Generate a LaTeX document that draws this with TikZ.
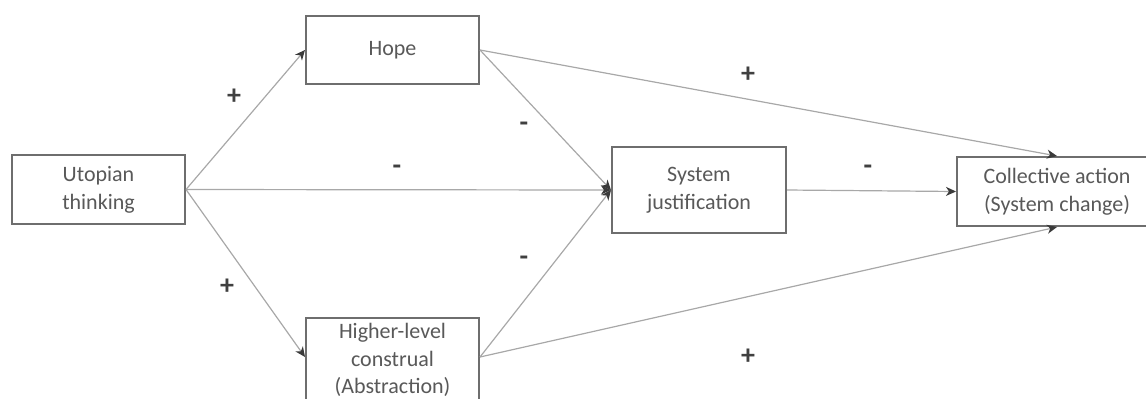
\documentclass[tikz,border=0pt]{standalone}
\usepackage{fontspec}
\setmainfont{Carlito}
\usetikzlibrary{arrows.meta,calc}
\definecolor{txtc}{HTML}{595959}
\definecolor{boxc}{HTML}{6E6E6E}
\definecolor{linec}{HTML}{A8A8A8}
\definecolor{tipc}{HTML}{3A3A3A}
\definecolor{signc}{HTML}{404040}
\begin{document}
\begin{tikzpicture}[x=0.5pt,y=-0.5pt,
  box/.style={draw=boxc, line width=1pt, fill=white, text=txtc, align=center,
    font=\fontsize{11}{13.85}\selectfont, inner sep=0pt},
  conn/.style={draw=linec, line width=0.6pt,
    -{Stealth[length=5pt,width=4.5pt,inset=1.5pt,color=tipc]}},
  sign/.style={text=signc, font=\fontsize{14}{16}\selectfont\bfseries, inner sep=0pt}]
\useasboundingbox (0,0) rectangle (1146,398);
\clip (0,0) rectangle (1146,398);

\node[box, minimum width=86.5pt, minimum height=34.5pt] (ut) at (98.5,189.5) {Utopian\\thinking};
\node[box, minimum width=86.5pt, minimum height=34pt] (hope) at (392.5,50) {Hope};
\node[box, minimum width=86.5pt, minimum height=42pt] (hl) at (392.5,360) {Higher-level\\construal\\(Abstraction)};
\node[box, minimum width=87pt, minimum height=43pt] (sj) at (699,190) {System\\justification};
\node[box, minimum width=100pt, minimum height=34.5pt] (ca) at (1057,191.5) {Collective action\\(System change)};

\coordinate (hlw) at ([yshift=1.5pt]hl.west);
\coordinate (hle) at ([yshift=1.5pt]hl.east);

\draw[conn] (ut.east) -- (hope.west);
\draw[conn] (ut.east) -- (sj.west);
\draw[conn] (ut.east) -- (hlw);
\draw[conn] (hope.east) -- (sj.west);
\draw[conn] (hope.east) -- (ca.north);
\draw[conn] (hle) -- (sj.west);
\draw[conn] (hle) -- (ca.south);
\draw[conn] (sj.east) -- (ca.west);

\node[sign] (s1) at (234,97) {+};
\node[sign] (s2) at (227,287) {+};
\node[sign] (s3) at (397,170) {-};
\node[sign] (s4) at (524,127) {-};
\node[sign] (s5) at (524,261) {-};
\node[sign] (s6) at (868,170) {-};
\node[sign] (s7) at (748,75) {+};
\node[sign] (s8) at (748,357) {+};
\end{tikzpicture}
\end{document}
